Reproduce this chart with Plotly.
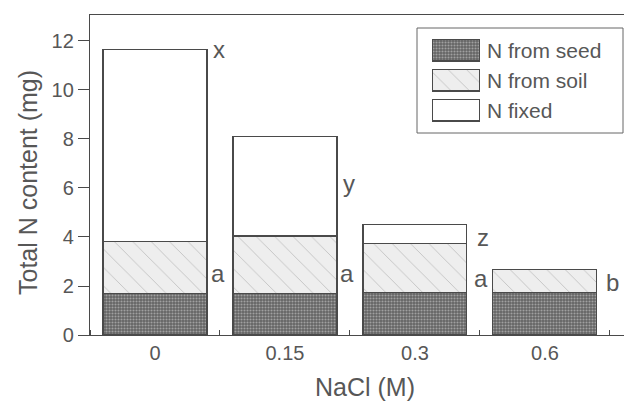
import plotly.graph_objects as go

categories = ["0", "0.15", "0.3", "0.6"]
n_seed = [1.68, 1.70, 1.73, 1.75]
n_soil = [2.12, 2.34, 2.01, 0.93]
n_fixed = [7.87, 4.05, 0.78, 0.0]
fixed_letters = ["x", "y", "z", ""]
soil_letters = ["a", "a", "a", "b"]
series_names = ["N from seed", "N from soil", "N fixed"]
y_ticks = [0, 2, 4, 6, 8, 10, 12]

FONT = "Liberation Sans, Arial, sans-serif"
TXT = "#575757"
LINE = "#4a4a4a"

seed_style = dict(color="#6a6a6a",
                  pattern=dict(shape=".", bgcolor="#646464", fgcolor="#a0a0a0",
                               size=3, solidity=0.4, fillmode="replace"),
                  line=dict(color=LINE, width=1.1))
soil_style = dict(color="#eeeeee",
                  pattern=dict(shape="\\", bgcolor="#eeeeee", fgcolor="#c2c2c2",
                               size=13, solidity=0.07, fillmode="replace"),
                  line=dict(color=LINE, width=1.1))
fixed_style = dict(color="#ffffff", line=dict(color=LINE, width=1.1))
styles = [seed_style, soil_style, fixed_style]

x_idx = list(range(len(categories)))

fig = go.Figure()
for name, vals, st in zip(series_names, [n_seed, n_soil, n_fixed], styles):
    fig.add_trace(go.Bar(x=x_idx, y=vals, name=name, marker=st, width=0.8,
                         showlegend=False))

# custom legend swatches on an overlay axis pair
lg_y = [2, 1, 0]
for name, st, yy in zip(series_names, styles, lg_y):
    fig.add_trace(go.Bar(x=[1], y=[yy], base=[0], orientation="h", width=0.73,
                         marker=st, xaxis="x2", yaxis="y2", showlegend=False,
                         hoverinfo="skip"))

# the page body has an 8px margin; positions below are in page pixels
PW, PH = 542.0, 320.0
def px_x(p):
    return (p - 90) / PW
def px_y(p):
    return (335 - p) / PH

annotations = []
totals = [a + b + c for a, b, c in zip(n_seed, n_soil, n_fixed)]
soil_tops = [a + b for a, b in zip(n_seed, n_soil)]
fixed_letter_y = [totals[0], (soil_tops[1] + totals[1]) / 2 + 0.1,
                  (soil_tops[2] + totals[2]) / 2 - 0.15, 0]
soil_letter_y = [2.5, 2.5, 2.3, 2.15]
letter_dx = [0.485, 0.48, 0.51, 0.52]
for i in x_idx:
    if fixed_letters[i]:
        annotations.append(dict(x=i + letter_dx[i] + 0.01, y=fixed_letter_y[i],
                                text=fixed_letters[i],
                                showarrow=False, xanchor="center", yanchor="middle",
                                font=dict(family=FONT, size=24, color=TXT)))
    annotations.append(dict(x=i + letter_dx[i], y=soil_letter_y[i], text=soil_letters[i],
                            showarrow=False, xanchor="center", yanchor="middle",
                            font=dict(family=FONT, size=24, color=TXT)))

for name, cy in zip(series_names, [50, 80, 110]):
    annotations.append(dict(x=px_x(485), y=px_y(cy), xref="paper", yref="paper",
                            text=name, showarrow=False, xanchor="left", yanchor="middle",
                            font=dict(family=FONT, size=21, color=TXT)))

annotations.append(dict(x=px_x(28), y=px_y(183), xref="paper", yref="paper",
                        text="Total N content (mg)", textangle=-90, showarrow=False,
                        xanchor="center", yanchor="middle",
                        font=dict(family=FONT, size=25, color=TXT)))
annotations.append(dict(x=px_x(365), y=px_y(387), xref="paper", yref="paper",
                        text="NaCl (M)", showarrow=False,
                        xanchor="center", yanchor="middle",
                        font=dict(family=FONT, size=25, color=TXT)))

fig.update_layout(
    width=624, height=393,
    margin=dict(l=82, r=0, t=7, b=66),
    paper_bgcolor="white", plot_bgcolor="white",
    barmode="stack",
    bargap=0.2,
    font=dict(family=FONT, color=TXT),
    xaxis=dict(range=[-0.5, 3.67], tickvals=x_idx, ticktext=categories,
               ticks="", showgrid=False, zeroline=False,
               showline=True, linecolor=LINE, linewidth=1.4, mirror=True,
               tickfont=dict(family=FONT, size=20, color=TXT),
               minor=dict(ticks="inside", tick0=0.5, dtick=1, ticklen=5,
                          tickcolor=LINE, showgrid=False)),
    yaxis=dict(range=[0, 13.06], tickvals=y_ticks, ticks="outside", ticklen=11,
               tickcolor=LINE, tickwidth=1.2, showgrid=False, zeroline=False,
               showline=True, linecolor=LINE, linewidth=1.4,
               tickfont=dict(family=FONT, size=20, color=TXT)),
    xaxis2=dict(domain=[px_x(432), px_x(480)], range=[0, 1], visible=False,
                anchor="y2", fixedrange=True),
    yaxis2=dict(domain=[px_y(125), px_y(35)], range=[-0.5, 2.5], visible=False,
                anchor="x2", fixedrange=True),
    shapes=[dict(type="rect", xref="paper", yref="paper",
                 x0=px_x(417), x1=px_x(623), y0=px_y(133), y1=px_y(28),
                 line=dict(color="#666666", width=1), fillcolor="white",
                 layer="below")],
    annotations=annotations,
)

fig.write_html("out.html")
